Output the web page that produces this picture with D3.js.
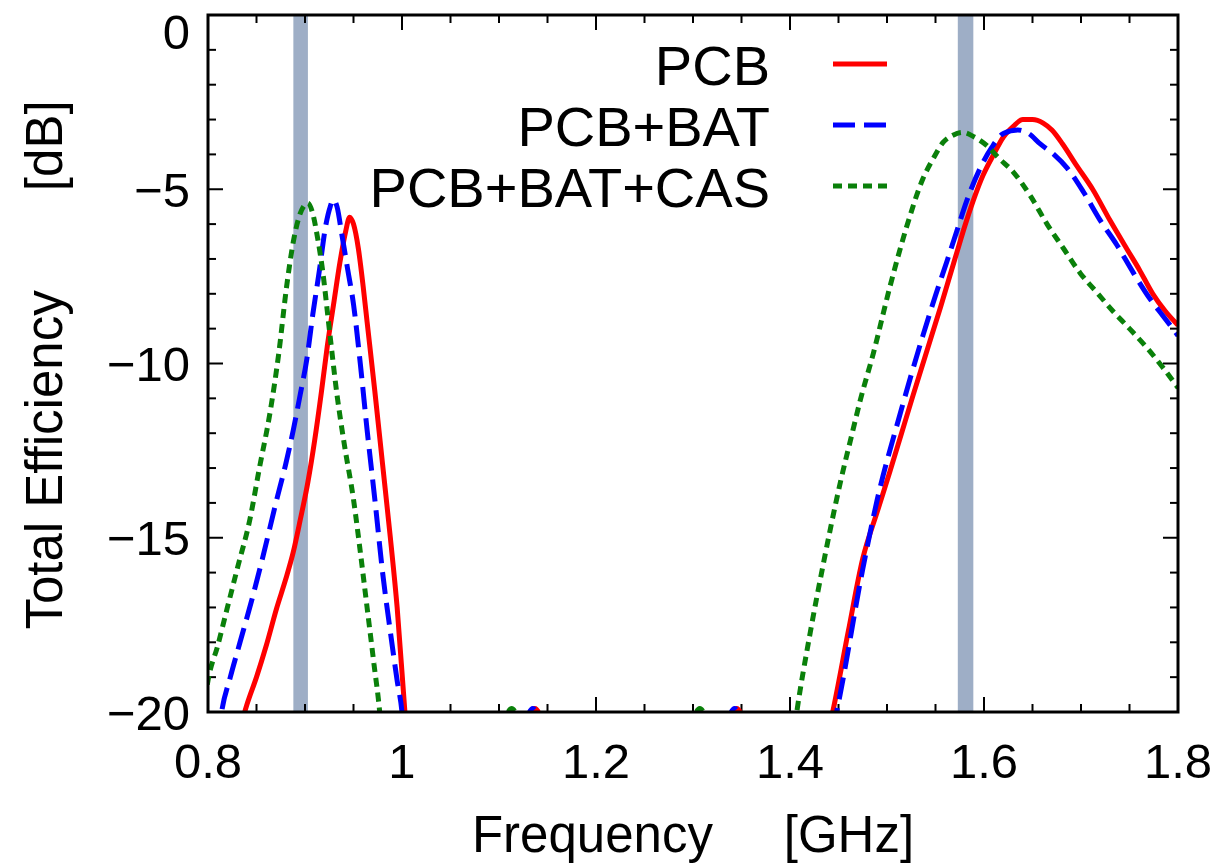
<!DOCTYPE html>
<html>
<head>
<meta charset="utf-8">
<script src="https://cdn.jsdelivr.net/npm/d3@7"></script>
<style>
  body { margin: 0; background: #fff; }
  svg text { font-family: "Liberation Sans", Arial, sans-serif; fill: #000; }
</style>
</head>
<body>
<div id="chart"></div>
<script>
// frequency [GHz] / total efficiency [dB]; null splits the low and high bands
const pcbFreq = [0.830, 0.840, 0.850, 0.860, 0.871, 0.880, 0.888, 0.895, 0.903, 0.910, 0.917, 0.923, 0.930, 0.936, 0.942, 0.946, 0.950, 0.955, 0.960, 0.964, 0.972, 0.980, 0.988, 0.995, 1.003, 1.006,
  null, 1.128, 1.137, 1.146, null, 1.336, 1.345, 1.354, null,
  1.440, 1.444, 1.460, 1.475, 1.490, 1.503, 1.515, 1.527, 1.541, 1.555, 1.570, 1.582, 1.599, 1.610, 1.620, 1.630, 1.640, 1.650, 1.661, 1.670, 1.681, 1.695, 1.712, 1.730, 1.747, 1.760, 1.774, 1.787, 1.800];
const pcbEff = [-20.8, -19.8, -19.0, -18.1, -17.0, -16.2, -15.4, -14.5, -13.4, -12.2, -10.8, -9.5, -8.2, -7.1, -6.2, -5.8, -6.0, -6.7, -7.8, -8.8, -10.8, -12.9, -15.0, -17.0, -20.0, -21.0,
  null, -20.4, -19.9, -20.4, null, -20.4, -19.9, -20.4, null,
  -20.5, -20.0, -17.7, -15.6, -14.25, -13.1, -12.0, -10.9, -9.65, -8.4, -7.0, -5.9, -4.6, -4.0, -3.5, -3.2, -3.0, -3.0, -3.1, -3.3, -3.7, -4.3, -5.0, -5.9, -6.7, -7.3, -8.0, -8.5, -8.9];

const batFreq = [0.810, 0.814, 0.823, 0.833, 0.845, 0.857, 0.870, 0.880, 0.888, 0.895, 0.902, 0.908, 0.915, 0.921, 0.926, 0.929, 0.933, 0.938, 0.944, 0.950, 0.957, 0.964, 0.972, 0.980, 0.988, 0.995, 1.000, 1.003,
  null, 1.126, 1.135, 1.144, null, 1.334, 1.343, 1.352, null,
  1.444, 1.448, 1.475, 1.490, 1.513, 1.537, 1.550, 1.562, 1.572, 1.582, 1.596, 1.608, 1.620, 1.635, 1.646, 1.658, 1.672, 1.686, 1.703, 1.720, 1.737, 1.754, 1.770, 1.785, 1.800];
const batEff = [-20.8, -20.0, -19.0, -18.0, -16.8, -15.5, -14.0, -12.9, -11.9, -10.9, -9.85, -8.6, -7.3, -6.1, -5.5, -5.3, -5.5, -6.3, -7.3, -8.3, -10.0, -11.9, -13.9, -16.0, -17.7, -19.1, -20.0, -21.0,
  null, -20.4, -19.9, -20.4, null, -20.4, -19.9, -20.4, null,
  -20.5, -20.0, -15.9, -13.9, -11.5, -9.2, -8.05, -7.05, -6.2, -5.35, -4.4, -3.8, -3.4, -3.3, -3.4, -3.7, -4.0, -4.4, -5.1, -5.9, -6.6, -7.4, -8.1, -8.65, -9.2];

const casFreq = [0.793, 0.800, 0.810, 0.820, 0.831, 0.843, 0.853, 0.864, 0.873, 0.881, 0.888, 0.895, 0.903, 0.908, 0.913, 0.918, 0.925, 0.933, 0.941, 0.950, 0.957, 0.964, 0.971, 0.977, 0.980,
  null, 1.104, 1.113, 1.122, null, 1.298, 1.307, 1.316, null,
  1.403, 1.407, 1.421, 1.434, 1.452, 1.465, 1.472, 1.486, 1.503, 1.520, 1.537, 1.548, 1.558, 1.568, 1.578, 1.590, 1.603, 1.615, 1.630, 1.648, 1.665, 1.682, 1.699, 1.716, 1.733, 1.750, 1.768, 1.784, 1.800];
const casEff = [-20.5, -19.1, -18.1, -17.0, -15.8, -14.5, -13.0, -11.4, -9.7, -7.8, -6.5, -5.7, -5.4, -5.7, -6.4, -7.3, -9.0, -10.9, -12.4, -13.9, -15.4, -17.0, -18.6, -20.0, -21.0,
  null, -20.4, -19.9, -20.4, null, -20.4, -19.9, -20.4, null,
  -20.8, -20.0, -17.7, -15.8, -13.4, -11.9, -11.1, -9.7, -7.8, -6.1, -4.7, -4.1, -3.65, -3.45, -3.37, -3.5, -3.75, -4.1, -4.5, -5.2, -6.0, -6.7, -7.4, -7.95, -8.5, -9.0, -9.55, -10.1, -10.7];

const seriesNames = ["PCB", "PCB+BAT", "PCB+BAT+CAS"];
const bandStart = [0.888, 1.573];
const bandEnd = [0.903, 1.589];
const xTicks = [0.8, 1.0, 1.2, 1.4, 1.6, 1.8];
const xTickLabels = ["0.8", "1", "1.2", "1.4", "1.6", "1.8"];
const yTicks = [0, -5, -10, -15, -20];

const width = 1226, height = 864;
const margin = { top: 15, right: 48, bottom: 152, left: 208 };

const svg = d3.select('#chart')
  .append('svg')
    .attr('width', width)
    .attr('height', height);

const x = d3.scaleLinear().domain([0.8, 1.8]).range([margin.left, width - margin.right]);
const y = d3.scaleLinear().domain([-20, 0]).range([height - margin.bottom, margin.top]);

svg.append('clipPath').attr('id', 'plot-clip')
  .append('rect')
    .attr('x', x(0.8)).attr('y', y(0))
    .attr('width', x(1.8) - x(0.8)).attr('height', y(-20) - y(0));

// shaded frequency bands
svg.selectAll('.band')
  .data(bandStart)
  .join('rect')
    .attr('class', 'band')
    .attr('x', d => x(d))
    .attr('y', y(0))
    .attr('width', (d, i) => x(bandEnd[i]) - x(d))
    .attr('height', y(-20) - y(0))
    .attr('fill', '#9eaec6');

// ticks on all four sides, pointing inwards
const minorX = d3.range(0.8, 1.8001, 0.05);
const minorY = d3.range(-20, 0.001, 1);
const tickGroup = svg.append('g').attr('stroke', '#000').attr('stroke-width', 2);

minorX.forEach(v => {
  const major = xTicks.some(t => Math.abs(t - v) < 1e-6);
  const len = major ? 15 : 8;
  tickGroup.append('line').attr('x1', x(v)).attr('x2', x(v)).attr('y1', y(-20)).attr('y2', y(-20) - len);
  tickGroup.append('line').attr('x1', x(v)).attr('x2', x(v)).attr('y1', y(0)).attr('y2', y(0) + len);
});
minorY.forEach(v => {
  const major = yTicks.some(t => Math.abs(t - v) < 1e-6);
  const len = major ? 15 : 8;
  tickGroup.append('line').attr('y1', y(v)).attr('y2', y(v)).attr('x1', x(0.8)).attr('x2', x(0.8) + len);
  tickGroup.append('line').attr('y1', y(v)).attr('y2', y(v)).attr('x1', x(1.8)).attr('x2', x(1.8) - len);
});

// curves
const curves = [
  { freq: pcbFreq, eff: pcbEff, color: '#ff0000', dash: null },
  { freq: batFreq, eff: batEff, color: '#0000ff', dash: '22,9' },
  { freq: casFreq, eff: casEff, color: '#0a800a', dash: '9,6' }
];

const line = d3.line()
  .defined(d => d[0] !== null && d[1] !== null)
  .x(d => x(d[0]))
  .y(d => y(d[1]))
  .curve(d3.curveMonotoneX);

svg.append('g').attr('clip-path', 'url(#plot-clip)')
  .selectAll('path')
  .data(curves)
  .join('path')
    .attr('d', c => line(c.freq.map((f, i) => [f, c.eff[i]])))
    .attr('fill', 'none')
    .attr('stroke', c => c.color)
    .attr('stroke-width', 5)
    .attr('stroke-dasharray', c => c.dash)
    .attr('stroke-linejoin', 'round');

// frame
svg.append('rect')
  .attr('x', x(0.8)).attr('y', y(0))
  .attr('width', x(1.8) - x(0.8)).attr('height', y(-20) - y(0))
  .attr('fill', 'none')
  .attr('stroke', '#000')
  .attr('stroke-width', 3);

// tick labels
svg.selectAll('.xlabel')
  .data(xTicks)
  .join('text')
    .attr('class', 'xlabel')
    .attr('x', d => x(d))
    .attr('y', 778)
    .attr('text-anchor', 'middle')
    .attr('font-size', 49)
    .text((d, i) => xTickLabels[i]);

svg.selectAll('.ylabel')
  .data(yTicks)
  .join('text')
    .attr('class', 'ylabel')
    .attr('x', 190)
    .attr('y', d => d === 0 ? y(d) + 16 : y(d))
    .attr('dy', '0.36em')
    .attr('text-anchor', 'end')
    .attr('font-size', 49)
    .text(d => d === 0 ? '0' : '\u2212' + Math.abs(d));

// axis titles
svg.append('text')
  .attr('x', (x(0.8) + x(1.8)) / 2)
  .attr('y', 852)
  .attr('text-anchor', 'middle')
  .attr('font-size', 51)
  .style('white-space', 'pre')
  .text('Frequency     [GHz]');

svg.append('text')
  .attr('transform', 'translate(62,' + 365 + ') rotate(-90)')
  .attr('text-anchor', 'middle')
  .attr('font-size', 51)
  .style('white-space', 'pre')
  .text('Total Efficiency       [dB]');

// legend
const legend = svg.append('g');
seriesNames.forEach((name, i) => {
  const base = 85 + i * 61;
  legend.append('text')
    .attr('x', 770)
    .attr('y', base)
    .attr('text-anchor', 'end')
    .attr('font-size', 56)
    .text(name);
  legend.append('line')
    .attr('x1', 833).attr('x2', 887)
    .attr('y1', base - 21).attr('y2', base - 21)
    .attr('stroke', curves[i].color)
    .attr('stroke-width', 5)
    .attr('stroke-dasharray', curves[i].dash);
});
</script>
</body>
</html>
